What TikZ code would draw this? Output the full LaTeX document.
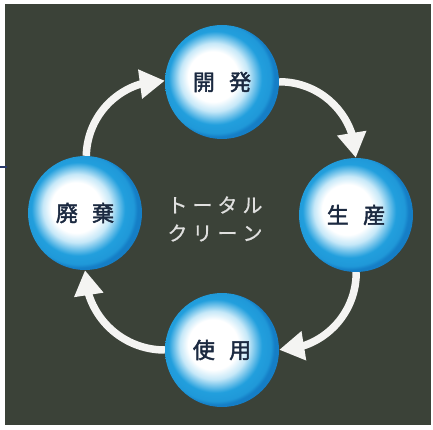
\documentclass[tikz,border=0pt]{standalone}
\usepackage{fontspec}
\newfontfamily\jp{Noto Sans CJK JP}[FakeBold=0.8]
\newfontfamily\jpbold{Noto Sans CJK JP}[FakeBold=2]
\usetikzlibrary{arrows.meta,bending}

\definecolor{panel}{HTML}{3B4238}
\definecolor{ballpale}{HTML}{C6E8F8}
\definecolor{ballblue}{HTML}{229FDD}
\definecolor{balledge}{HTML}{157EC6}
\definecolor{labelnavy}{HTML}{1B2940}
\definecolor{arrowwhite}{HTML}{F4F4F2}
\definecolor{edgeline}{HTML}{2A3A6A}

% shaded ball: the middle 50bp square maps to the node
\pgfdeclareradialshading{spherefill}{\pgfpoint{-5bp}{3bp}}{%
  color(0bp)=(white); color(11bp)=(white); color(15bp)=(ballpale);
  color(20.5bp)=(ballblue); color(24bp)=(ballblue!80!balledge);
  color(25.5bp)=(balledge); color(50bp)=(balledge)}

\begin{document}
\begin{tikzpicture}[x=1pt,y=-1pt,
    sphere/.style={circle,minimum size=114pt,inner sep=0pt,shade,shading=spherefill,
      text=labelnavy,font=\jpbold\fontsize{22}{22}\selectfont},
    cyclearrow/.style={line width=7.5pt,draw=arrowwhite,
      -{Triangle[width=28pt,length=25pt,flex]}}]
    \useasboundingbox (0,0) rectangle (433,430);
    \fill[panel] (5,4) rectangle (431,425);
    \draw[edgeline,line width=1.2pt] (0,167) -- (7,167);

    \node[sphere] (kaihatsu) at (222,82) {開\hspace{0.65em}発};
    \node[sphere] (seisan) at (356,215) {生\hspace{0.65em}産};
    \node[sphere] (shiyou) at (222,350) {使\hspace{0.65em}用};
    \node[sphere] (haiki) at (85,213) {廃\hspace{0.65em}棄};

    \node[text=arrowwhite!92!black,align=center,font=\jp\fontsize{20}{28}\selectfont]
        (totalclean) at (215,219)
        {ト\hspace{.25em}ー\hspace{.25em}タ\hspace{.25em}ル\\ク\hspace{.25em}リ\hspace{.25em}ー\hspace{.25em}ン};

    \draw[cyclearrow] (kaihatsu) to[bend left=45] (seisan);
    \draw[cyclearrow] (seisan) to[bend left=45] (shiyou);
    \draw[cyclearrow] (shiyou) to[bend left=45] (haiki);
    \draw[cyclearrow] (haiki) to[bend left=45] (kaihatsu);

\end{tikzpicture}
\end{document}
